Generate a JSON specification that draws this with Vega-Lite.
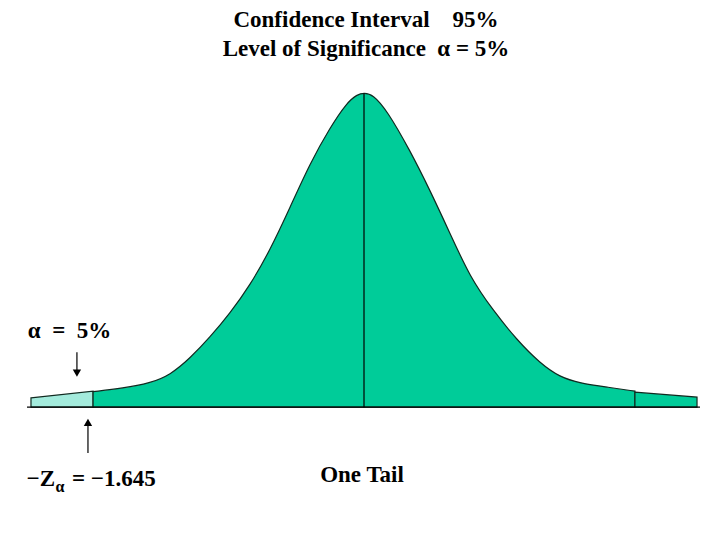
{
  "$schema": "https://vega.github.io/schema/vega-lite/v6.json",
  "description": "One-tailed test at 5% significance: normal curve with the rejection tail shaded.",
  "width": 720,
  "height": 540,
  "autosize": {"type": "fit", "contains": "padding"},
  "padding": {"top": 9, "left": 0, "right": 0, "bottom": 0},
  "background": "white",
  "title": {
    "text": ["Confidence Interval\u00a0\u00a0\u00a0\u00a095%", "Level of Significance\u00a0\u00a0α = 5%"],
    "font": "Liberation Serif",
    "fontSize": 23,
    "fontWeight": "bold",
    "lineHeight": 29,
    "color": "black",
    "anchor": "middle",
    "dx": 6,
    "offset": 0
  },
  "datasets": {
    "curve": [
      {"part": "tail", "z": -2.022, "d": 0.0118},
      {"part": "tail", "z": -1.645, "d": 0.0204},
      {"part": "body", "z": -1.645, "d": 0.0197},
      {"part": "body", "z": -1.463, "d": 0.0242},
      {"part": "body", "z": -1.299, "d": 0.0306},
      {"part": "body", "z": -1.178, "d": 0.0408},
      {"part": "body", "z": -1.056, "d": 0.0624},
      {"part": "body", "z": -0.935, "d": 0.0892},
      {"part": "body", "z": -0.814, "d": 0.1197},
      {"part": "body", "z": -0.692, "d": 0.1554},
      {"part": "body", "z": -0.571, "d": 0.2},
      {"part": "body", "z": -0.449, "d": 0.2548},
      {"part": "body", "z": -0.328, "d": 0.3108},
      {"part": "body", "z": -0.206, "d": 0.3567},
      {"part": "body", "z": -0.103, "d": 0.3885},
      {"part": "body", "z": -0.043, "d": 0.3985},
      {"part": "body", "z": 0, "d": 0.401},
      {"part": "body", "z": 0.055, "d": 0.3985},
      {"part": "body", "z": 0.14, "d": 0.3783},
      {"part": "body", "z": 0.279, "d": 0.3274},
      {"part": "body", "z": 0.401, "d": 0.2764},
      {"part": "body", "z": 0.522, "d": 0.2217},
      {"part": "body", "z": 0.644, "d": 0.1656},
      {"part": "body", "z": 0.783, "d": 0.1236},
      {"part": "body", "z": 0.929, "d": 0.0854},
      {"part": "body", "z": 1.069, "d": 0.056},
      {"part": "body", "z": 1.19, "d": 0.0382},
      {"part": "body", "z": 1.311, "d": 0.0306},
      {"part": "body", "z": 1.475, "d": 0.0255},
      {"part": "body", "z": 1.645, "d": 0.0204},
      {"part": "right", "z": 1.645, "d": 0.0191},
      {"part": "right", "z": 2.022, "d": 0.0127}
    ],
    "rules": [
      {"kind": "mean", "z": 0, "z2": 0, "d": 0, "d2": 0.4},
      {"kind": "axis", "z": -2.046, "z2": 2.04, "d": 0, "d2": 0},
      {"kind": "alpha", "z": -1.743, "z2": -1.743, "d": 0.07, "d2": 0.045},
      {"kind": "critical", "z": -1.676, "z2": -1.676, "d": -0.0586, "d2": -0.021}
    ],
    "heads": [
      {"dir": "down", "z": -1.743, "d": 0.0435},
      {"dir": "up", "z": -1.676, "d": -0.0193}
    ],
    "labels": [
      {"label": "α\u00a0\u00a0=\u00a0\u00a05%", "z": -1.788, "d": 0.0879, "anchor": "center"},
      {"label": "One Tail", "z": -0.012, "d": -0.0955, "anchor": "center"},
      {"label": "−Z", "z": -1.876, "d": -0.1006, "anchor": "right"},
      {"label": "=\u00a0−1.645", "z": -1.773, "d": -0.1006, "anchor": "left"}
    ],
    "subscripts": [
      {"label": "α", "z": -1.873, "d": -0.108}
    ]
  },
  "layer": [
    {
      "data": {"name": "curve"},
      "mark": {"type": "area", "interpolate": "basis", "stroke": "#102a20", "strokeWidth": 1.2, "opacity": 1},
      "encoding": {
        "x": {"field": "z", "type": "quantitative", "scale": {"domain": [-2.2101, 2.1615], "nice": false, "zero": false}, "axis": null},
        "y": {"field": "d", "type": "quantitative", "stack": null, "scale": {"domain": [-0.16943, 0.4414], "nice": false, "zero": false}, "axis": null},
        "color": {"field": "part", "type": "nominal", "scale": {"domain": ["tail", "body", "right"], "range": ["#a3ebdc", "#00cc99", "#00cc99"]}, "legend": null},
        "detail": {"field": "part"}
      }
    },
    {
      "data": {"name": "rules"},
      "mark": {"type": "rule", "color": "black", "strokeWidth": 1.2},
      "encoding": {
        "x": {"field": "z", "type": "quantitative"},
        "x2": {"field": "z2"},
        "y": {"field": "d", "type": "quantitative"},
        "y2": {"field": "d2"}
      }
    },
    {
      "data": {"name": "heads"},
      "mark": {"type": "point", "filled": true, "color": "black", "opacity": 1, "size": 70},
      "encoding": {
        "x": {"field": "z", "type": "quantitative"},
        "y": {"field": "d", "type": "quantitative"},
        "shape": {"field": "dir", "type": "nominal", "scale": {"domain": ["down", "up"], "range": ["triangle-down", "triangle-up"]}, "legend": null}
      }
    },
    {
      "data": {"name": "labels"},
      "transform": [{"filter": "datum.anchor == 'center'"}],
      "mark": {"type": "text", "align": "center", "baseline": "alphabetic", "font": "Liberation Serif", "fontSize": 23, "fontWeight": "bold", "color": "black"},
      "encoding": {
        "x": {"field": "z", "type": "quantitative"},
        "y": {"field": "d", "type": "quantitative"},
        "text": {"field": "label"}
      }
    },
    {
      "data": {"name": "labels"},
      "transform": [{"filter": "datum.anchor == 'right'"}],
      "mark": {"type": "text", "align": "right", "baseline": "alphabetic", "font": "Liberation Serif", "fontSize": 23, "fontWeight": "bold", "color": "black"},
      "encoding": {
        "x": {"field": "z", "type": "quantitative"},
        "y": {"field": "d", "type": "quantitative"},
        "text": {"field": "label"}
      }
    },
    {
      "data": {"name": "labels"},
      "transform": [{"filter": "datum.anchor == 'left'"}],
      "mark": {"type": "text", "align": "left", "baseline": "alphabetic", "font": "Liberation Serif", "fontSize": 23, "fontWeight": "bold", "color": "black"},
      "encoding": {
        "x": {"field": "z", "type": "quantitative"},
        "y": {"field": "d", "type": "quantitative"},
        "text": {"field": "label"}
      }
    },
    {
      "data": {"name": "subscripts"},
      "mark": {"type": "text", "align": "left", "baseline": "alphabetic", "font": "Liberation Serif", "fontSize": 16, "fontWeight": "bold", "color": "black"},
      "encoding": {
        "x": {"field": "z", "type": "quantitative"},
        "y": {"field": "d", "type": "quantitative"},
        "text": {"field": "label"}
      }
    }
  ],
  "config": {"view": {"stroke": null}}
}
